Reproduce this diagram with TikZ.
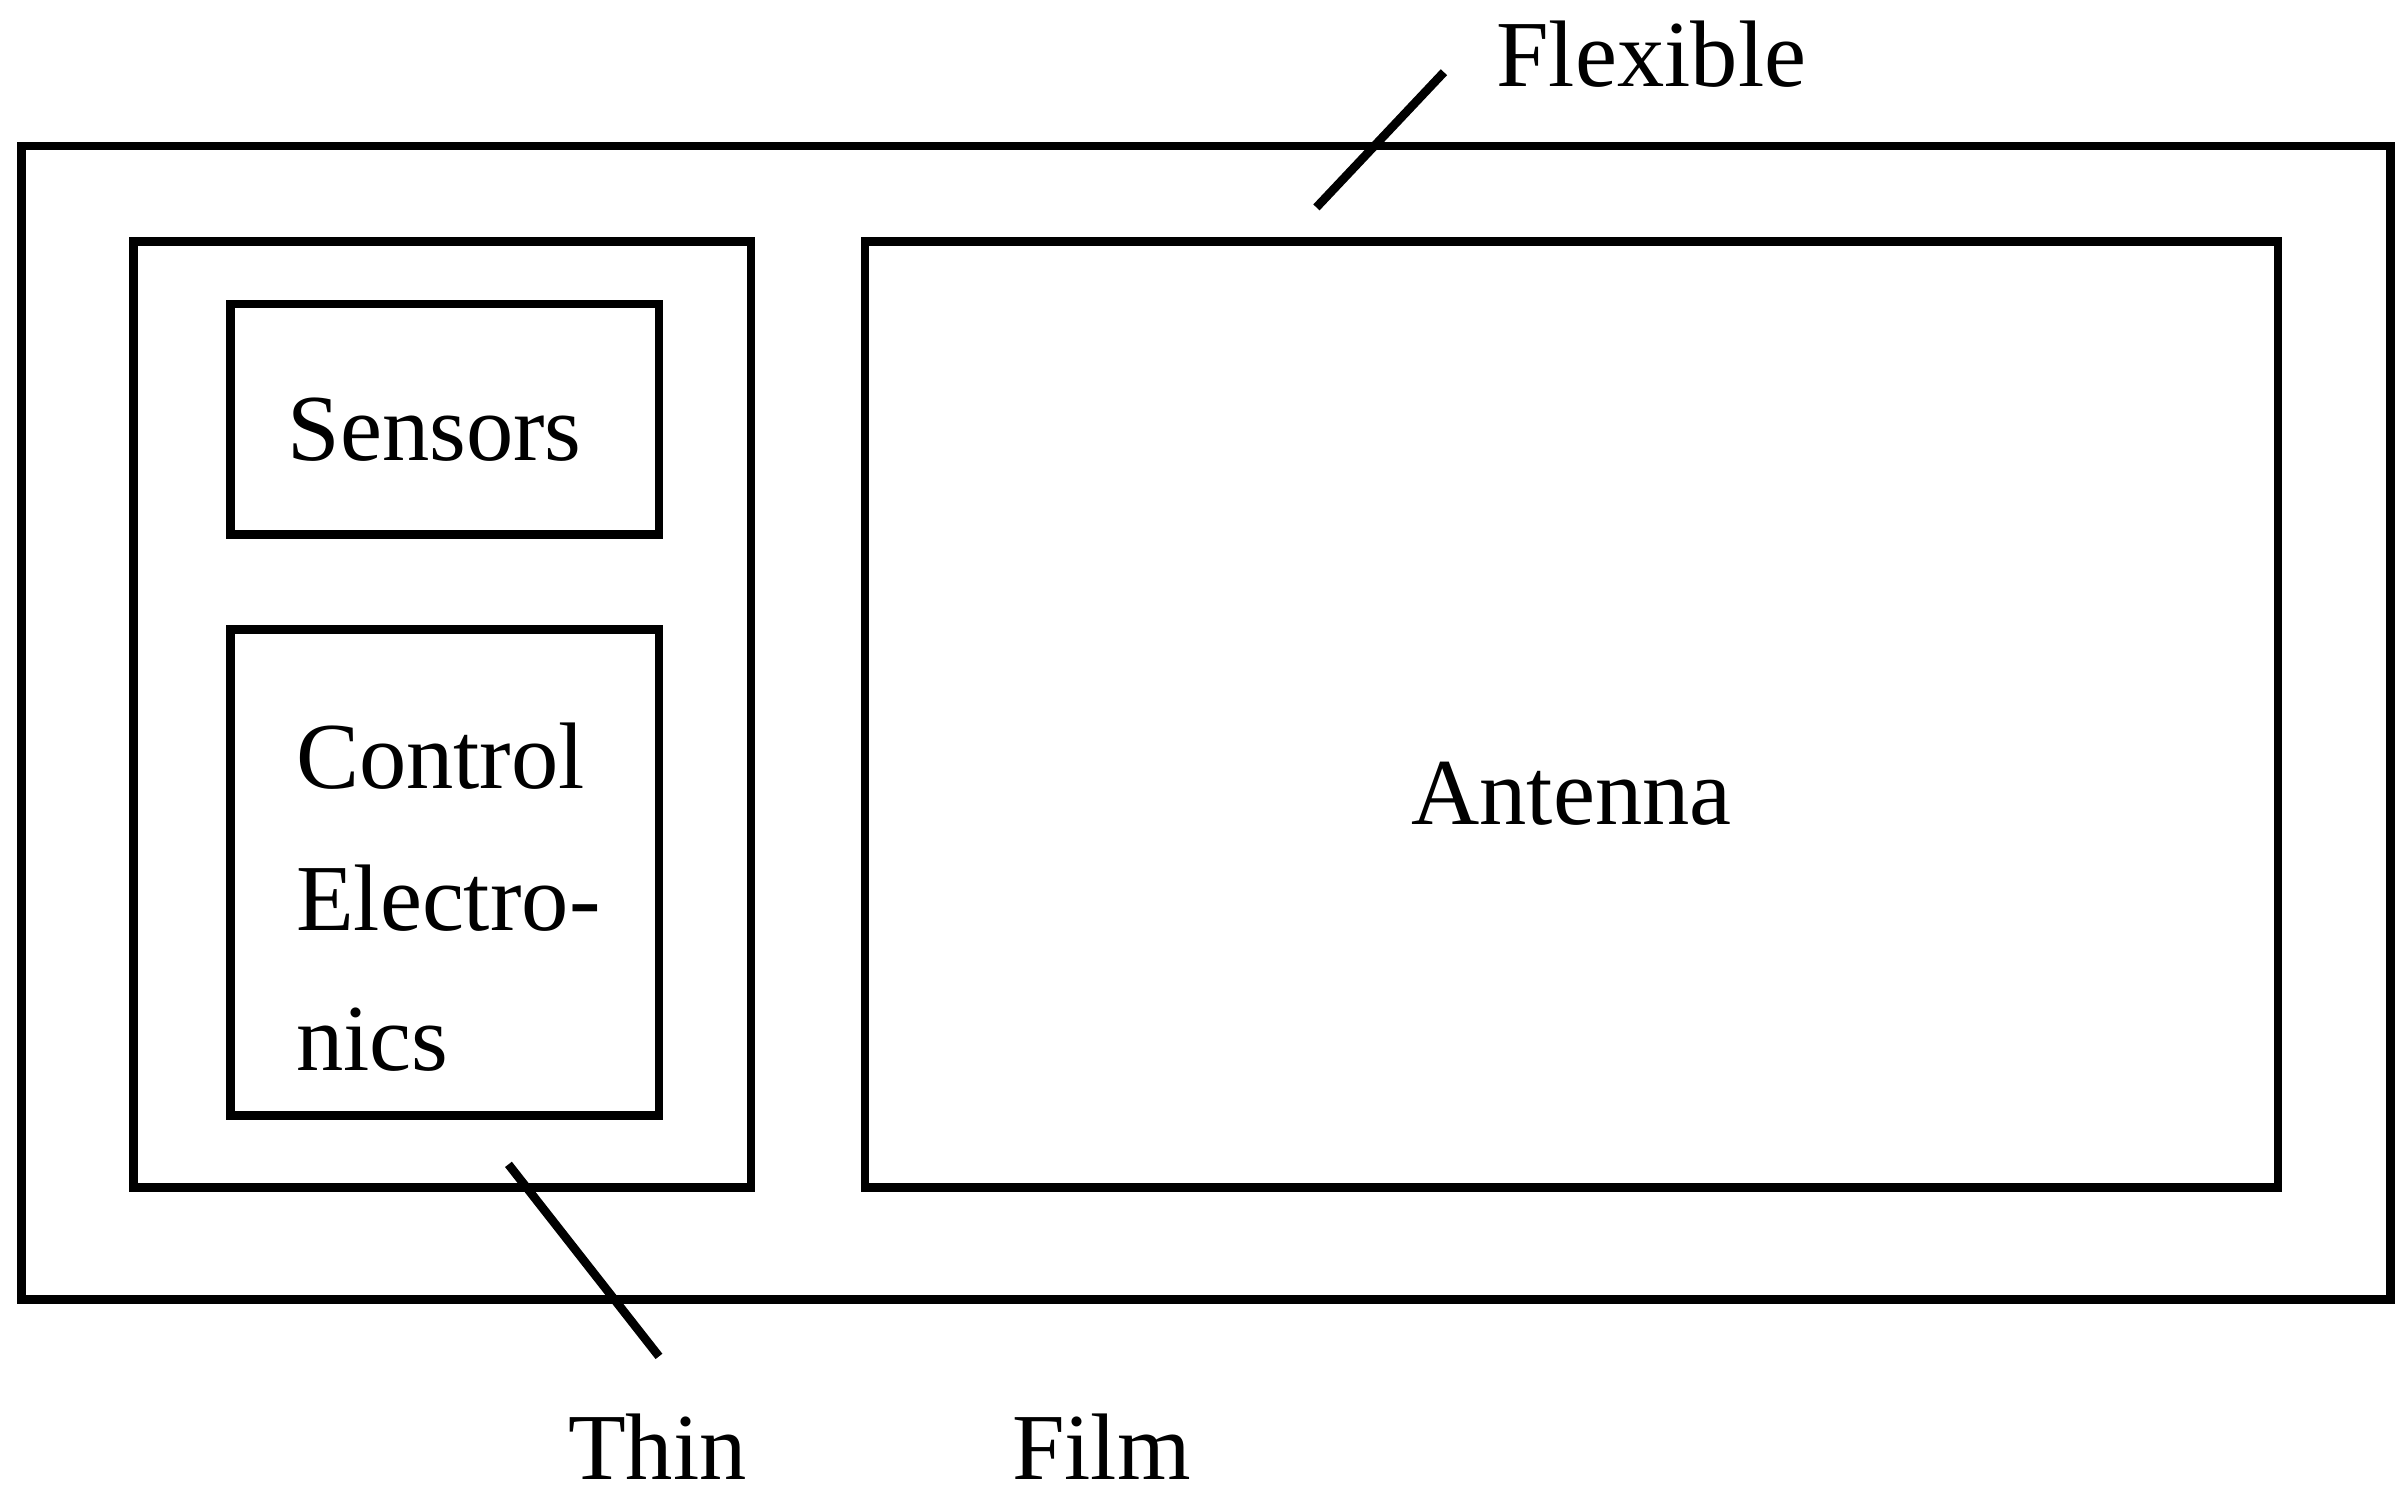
\documentclass[tikz,border=0pt]{standalone}
\usepackage{fontspec}
\setmainfont{Liberation Serif}
\begin{document}
\begin{tikzpicture}[x=0.01cm, y=-0.01cm]

% Styles for boxes and labels
\tikzstyle{box} = [draw=black, line width=1.6pt]
\tikzstyle{lab} = [font=\fontsize{17.5}{21}\selectfont, inner sep=0pt]
\tikzstyle{lead} = [draw=black, line width=1.6pt]

\useasboundingbox (0,0) rectangle (1565,975);

\draw[box] (14,95) rectangle (1556,846);
\draw[box] (87,157) rectangle (489,773);
\draw[box] (150,198) rectangle (429,348);
\draw[box] (150,410) rectangle (429,726);
\draw[box] (563,157) rectangle (1483,773);

\node[lab] (sensors) at (283,280) {Sensors};
\node[lab, anchor=west] (control) at (192,492) {Control};
\node[lab, anchor=west] (electro) at (192,585) {Electro-};
\node[lab, anchor=west] (nics) at (192,677) {nics};
\node[lab] (antenna) at (1023,517) {Antenna};

\node[lab] (flexible) at (1075,35) {Flexible};
\node[lab] (thin) at (428,942) {Thin};
\node[lab] (film) at (717,942) {Film};

\coordinate (fa) at (857,135);
\coordinate (fb) at (940,47);
\coordinate (ta) at (331,758);
\coordinate (tb) at (429,883);
\draw[lead] (fa) -- (fb);
\draw[lead] (ta) -- (tb);

\end{tikzpicture}
\end{document}
